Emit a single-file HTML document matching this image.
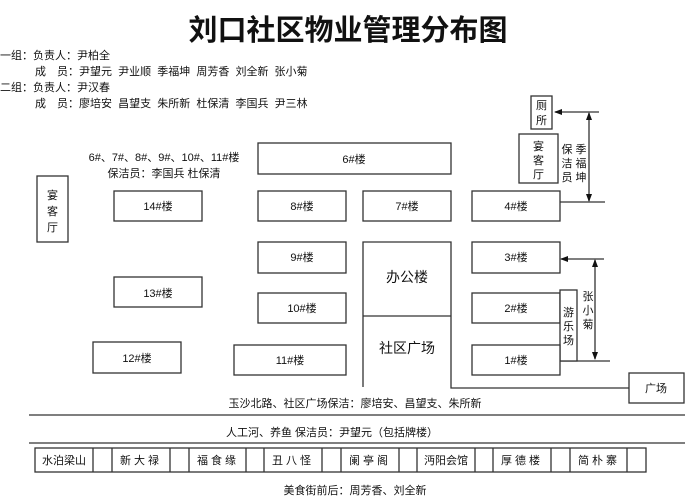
<!DOCTYPE html>
<html><head><meta charset="utf-8"><style>
html,body{margin:0;padding:0;background:#fff;}
svg{display:block;}
text{font-family:"Liberation Sans","Noto Sans CJK SC",sans-serif;fill:#111;font-size:11px;}
.b{fill:#fff;stroke:#333;stroke-width:1.3;}
.l{stroke:#333;stroke-width:1.3;fill:none;}
</style></head><body>
<svg width="685" height="496" viewBox="0 0 685 496" xmlns="http://www.w3.org/2000/svg">
<defs>
<marker id="a" markerWidth="8" markerHeight="8" refX="7" refY="4" orient="auto-start-reverse" markerUnits="userSpaceOnUse">
<path d="M0,1 L8,4 L0,7 Z" fill="#111"/></marker>
</defs>
<text x="348" y="40" text-anchor="middle" style="font-size:29px;font-weight:bold;">刘口社区物业管理分布图</text>
<text x="0" y="59">一组：负责人：尹柏全</text>
<text x="35" y="75" xml:space="preserve">成　员：尹望元  尹业顺  季福坤  周芳香  刘全新  张小菊</text>
<text x="0" y="91">二组：负责人：尹汉春</text>
<text x="35" y="107" xml:space="preserve">成　员：廖培安  昌望支  朱所新  杜保清  李国兵  尹三林</text>

<rect class="b" x="531" y="96" width="21" height="33"/>
<text x="541.5" y="109" text-anchor="middle">厕</text>
<text x="541.5" y="124" text-anchor="middle">所</text>
<rect class="b" x="519" y="134" width="39" height="49"/>
<text x="538.5" y="150" text-anchor="middle">宴</text>
<text x="538.5" y="164" text-anchor="middle">客</text>
<text x="538.5" y="178" text-anchor="middle">厅</text>
<text x="567" y="153" text-anchor="middle">保</text>
<text x="567" y="167" text-anchor="middle">洁</text>
<text x="567" y="181" text-anchor="middle">员</text>
<text x="581" y="153" text-anchor="middle">季</text>
<text x="581" y="167" text-anchor="middle">福</text>
<text x="581" y="181" text-anchor="middle">坤</text>
<line class="l" x1="599" y1="112" x2="555" y2="112" marker-end="url(#a)"/>
<line class="l" x1="589" y1="113" x2="589" y2="201" marker-start="url(#a)" marker-end="url(#a)"/>
<line class="l" x1="560" y1="202" x2="605" y2="202"/>

<rect class="b" x="258" y="143" width="193" height="31"/>
<text x="354" y="163" text-anchor="middle">6#楼</text>
<text x="164" y="161" text-anchor="middle">6#、7#、8#、9#、10#、11#楼</text>
<text x="164" y="177" text-anchor="middle">保洁员：李国兵  杜保清</text>

<rect class="b" x="37" y="176" width="31" height="66"/>
<text x="52.5" y="199" text-anchor="middle">宴</text>
<text x="52.5" y="215" text-anchor="middle">客</text>
<text x="52.5" y="231" text-anchor="middle">厅</text>

<rect class="b" x="114" y="191" width="88" height="30"/><text x="158" y="210" text-anchor="middle">14#楼</text>
<rect class="b" x="258" y="191" width="88" height="30"/><text x="302" y="210" text-anchor="middle">8#楼</text>
<rect class="b" x="363" y="191" width="88" height="30"/><text x="407" y="210" text-anchor="middle">7#楼</text>
<rect class="b" x="472" y="191" width="88" height="30"/><text x="516" y="210" text-anchor="middle">4#楼</text>

<rect class="b" x="258" y="242" width="88" height="31"/><text x="302" y="261" text-anchor="middle">9#楼</text>
<path class="l" d="M363,387 L363,242 L451,242 L451,388 L629,388"/>
<line class="l" x1="363" y1="316" x2="451" y2="316"/>
<text x="407" y="282" text-anchor="middle" style="font-size:14px;">办公楼</text>
<text x="407" y="353" text-anchor="middle" style="font-size:14px;">社区广场</text>
<rect class="b" x="629" y="373" width="55" height="30"/><text x="656" y="392" text-anchor="middle">广场</text>

<rect class="b" x="472" y="242" width="88" height="31"/><text x="516" y="261" text-anchor="middle">3#楼</text>
<line class="l" x1="604" y1="259" x2="561" y2="259" marker-end="url(#a)"/>
<line class="l" x1="595" y1="260" x2="595" y2="359" marker-start="url(#a)" marker-end="url(#a)"/>
<line class="l" x1="560" y1="361" x2="610" y2="361"/>
<text x="588" y="300" text-anchor="middle">张</text>
<text x="588" y="314" text-anchor="middle">小</text>
<text x="588" y="328" text-anchor="middle">菊</text>

<rect class="b" x="114" y="277" width="88" height="30"/><text x="158" y="297" text-anchor="middle">13#楼</text>
<rect class="b" x="258" y="293" width="88" height="30"/><text x="302" y="312" text-anchor="middle">10#楼</text>
<rect class="b" x="472" y="293" width="88" height="30"/><text x="516" y="312" text-anchor="middle">2#楼</text>
<rect class="b" x="560" y="290" width="17" height="71"/>
<text x="568.5" y="316" text-anchor="middle">游</text>
<text x="568.5" y="330" text-anchor="middle">乐</text>
<text x="568.5" y="344" text-anchor="middle">场</text>

<rect class="b" x="93" y="342" width="88" height="31"/><text x="137" y="362" text-anchor="middle">12#楼</text>
<rect class="b" x="234" y="345" width="112" height="30"/><text x="290" y="364" text-anchor="middle">11#楼</text>
<rect class="b" x="472" y="345" width="88" height="30"/><text x="516" y="364" text-anchor="middle">1#楼</text>

<text x="355" y="407" text-anchor="middle">玉沙北路、社区广场保洁：廖培安、昌望支、朱所新</text>
<line class="l" x1="29" y1="415" x2="685" y2="415"/>
<text x="332" y="436" text-anchor="middle">人工河、养鱼 保洁员：尹望元（包括牌楼）</text>
<line class="l" x1="29" y1="443" x2="685" y2="443"/>

<rect class="b" x="35" y="448" width="611" height="24"/>
<g class="l">
<line x1="93" y1="448" x2="93" y2="472"/><line x1="112" y1="448" x2="112" y2="472"/>
<line x1="170" y1="448" x2="170" y2="472"/><line x1="189" y1="448" x2="189" y2="472"/>
<line x1="246" y1="448" x2="246" y2="472"/><line x1="264" y1="448" x2="264" y2="472"/>
<line x1="322" y1="448" x2="322" y2="472"/><line x1="341" y1="448" x2="341" y2="472"/>
<line x1="399" y1="448" x2="399" y2="472"/><line x1="417" y1="448" x2="417" y2="472"/>
<line x1="475" y1="448" x2="475" y2="472"/><line x1="493" y1="448" x2="493" y2="472"/>
<line x1="551" y1="448" x2="551" y2="472"/><line x1="570" y1="448" x2="570" y2="472"/>
<line x1="627" y1="448" x2="627" y2="472"/>
</g>
<text x="64" y="464" text-anchor="middle">水泊梁山</text>
<text x="141" y="464" text-anchor="middle" letter-spacing="3">新大禄</text>
<text x="218" y="464" text-anchor="middle" letter-spacing="3">福食缘</text>
<text x="293" y="464" text-anchor="middle" letter-spacing="3">丑八怪</text>
<text x="370" y="464" text-anchor="middle" letter-spacing="3">阑亭阁</text>
<text x="446" y="464" text-anchor="middle">沔阳会馆</text>
<text x="522" y="464" text-anchor="middle" letter-spacing="3">厚德楼</text>
<text x="599" y="464" text-anchor="middle" letter-spacing="3">简朴寨</text>

<text x="355" y="494" text-anchor="middle">美食街前后：周芳香、刘全新</text>
</svg>
</body></html>
